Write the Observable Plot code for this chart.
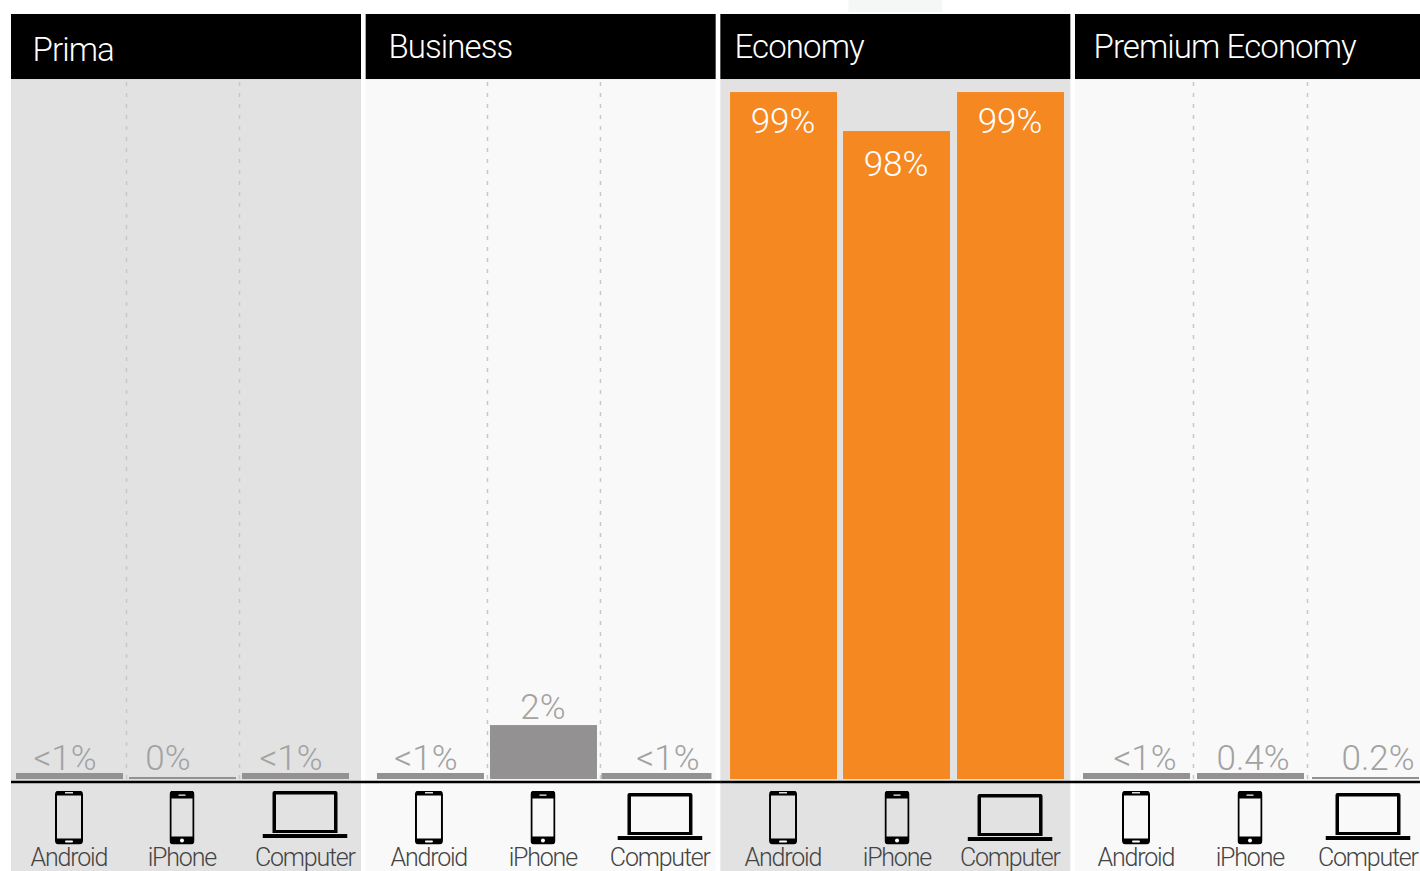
<!DOCTYPE html>
<html><head><meta charset="utf-8">
<script src="https://cdn.jsdelivr.net/npm/d3@7"></script>
<script src="https://cdn.jsdelivr.net/npm/@observablehq/plot@0.6"></script>
<style>html,body{margin:0;padding:0;background:#fff;overflow:hidden}svg{display:block}
g[font-size="33"]{letter-spacing:-0.9px}
g[font-size="25"]{letter-spacing:-1.2px}
</style>
</head><body><div id="chart"></div>
<script>
const cabins = ["Prima", "Business", "Economy", "Premium Economy"];
const devices = ["Android", "iPhone", "Computer"];
const shareLabels = [
  ["<1%", "0%", "<1%"],
  ["<1%", "2%", "<1%"],
  ["99%", "98%", "99%"],
  ["<1%", "0.4%", "0.2%"]
];
// bar lengths as drawn, on a 0–100 panel scale
const drawnLengths = [
  [0.86, 0.29, 0.86],
  [0.86, 7.71, 0.86],
  [98.14, 92.57, 98.14],
  [0.86, 0.86, 0.29]
];

// ----- layout & style (offsets in px) -----
const FONT = "Roboto, 'Liberation Sans', sans-serif";
const panelFill = ["#e2e2e2", "#f9f9f9", "#e2e2e2", "#f9f9f9"];
const barNudge = [[5,5,5],[11.3,11.3,11.8],[9.7,9.7,10.7],[8,9,11]];
const labelNudge = [[0,-10,0],[6.3,10.3,22.3],[8.7,8.7,9.7],[16,11,23]];
const deviceNudge = [[4.5,4.5,14.5],[9.8,10.8,14.8],[9.2,10.2,10.2],[7.5,8.5,13.5]];
const titleDx = [21, 22.3, 13.7, 18];
const titleDy = [3, 0, 0, 0];
const iconDy = [[0,0,-3],[0,0,-1],[0,0,0],[0,0,-1]];
const Y = {floor: -13.14, top: 100, head: 109.29, pale0: 109.6, pale1: 111.29, axis: -0.36, icon: -5.43, device: -11.2};

const svgUri = s => "data:image/svg+xml;utf8," + encodeURIComponent(s);
const androidIcon = svgUri(`<svg xmlns="http://www.w3.org/2000/svg" viewBox="0 0 28 54"><path fill-rule="evenodd" d="M4 0H24Q28 0 28 4V50Q28 54 24 54H4Q0 54 0 50V4Q0 0 4 0ZM2 5V48H26V5Z"/><rect x="10" y="1.6" width="8" height="1.3" fill="#fff"/><rect x="10" y="50" width="8" height="2" rx="1" fill="#fff"/></svg>`);
const iphoneIcon = svgUri(`<svg xmlns="http://www.w3.org/2000/svg" viewBox="0 0 25 54"><path fill-rule="evenodd" d="M4 0H21Q25 0 25 4V50Q25 54 21 54H4Q0 54 0 50V4Q0 0 4 0ZM2 8V46H23V8Z"/><rect x="9" y="4" width="7" height="1.2" fill="#fff"/><circle cx="12.5" cy="50" r="2" fill="#fff"/></svg>`);
const laptopIcon = svgUri(`<svg xmlns="http://www.w3.org/2000/svg" viewBox="0 0 85 47"><path fill-rule="evenodd" d="M12 0H73Q75 0 75 2V42H10V2Q10 0 12 0ZM13.5 3.5V39H71.5V3.5Z"/><rect x="0" y="43" width="85" height="4"/></svg>`);
const icons = {Android: {src: androidIcon, w: 28, h: 54}, iPhone: {src: iphoneIcon, w: 25, h: 54}, Computer: {src: laptopIcon, w: 85, h: 47}};

const marks = [];
cabins.forEach((cabin, p) => {
  const one = [{cabin}];
  marks.push(
    Plot.rect(one, {fx: "cabin", y1: Y.floor, y2: Y.top, fill: panelFill[p]}),
    Plot.rect(one, {fx: "cabin", y1: Y.top, y2: Y.head, fill: "#000"}),
    Plot.text(one, {fx: "cabin", text: "cabin", y: (Y.top + Y.head) / 2, frameAnchor: "left", textAnchor: "start", dx: titleDx[p], dy: titleDy[p], fill: "#fff", fontSize: 33, fontWeight: 300, fontFamily: FONT})
  );
  if (cabin === "Economy") {
    marks.push(Plot.barY(one, {fx: "cabin", x: () => "iPhone", y1: Y.pale0, y2: Y.pale1, fill: "#f5f7f7", dx: 10, insetLeft: 5, insetRight: 8}));
  } else {
    [0, 1].forEach(i => {
      marks.push(Plot.ruleX(one, {fx: "cabin", x: () => devices[i], y1: 0, y2: Y.top, dx: barNudge[p][i] + 56.5, stroke: "#c8c8c8", strokeWidth: 1.5, strokeDasharray: "4,7"}));
    });
  }
  devices.forEach((device, i) => {
    const row = [{cabin, device, length: drawnLengths[p][i], label: shareLabels[p][i]}];
    const big = drawnLengths[p][i] > 50;
    const thin = drawnLengths[p][i] < 0.5;
    const tall = drawnLengths[p][i] > 5;
    const wide = p === 1 && i === 2;
    const icon = icons[device];
    marks.push(
      Plot.barY(row, {fx: "cabin", x: "device", y: "length", dx: barNudge[p][i], insetLeft: wide ? -2 : 0, insetRight: wide ? -1 : 0, fill: big ? "#f68822" : "#939191"}),
      Plot.text(row, {fx: "cabin", x: "device", y: "length", text: "label", dx: labelNudge[p][i], dy: big ? (i === 1 ? 33 : 29) : thin ? -19 : tall ? -18 : -15, fill: big ? "#fff" : "#a2a2a2", fontSize: 35, fontWeight: 300, fontFamily: FONT}),
      Plot.image(row, {fx: "cabin", x: "device", y: () => Y.icon, src: () => icon.src, width: icon.w, height: icon.h, dx: deviceNudge[p][i] - 0.5, dy: iconDy[p][i]}),
      Plot.text(row, {fx: "cabin", x: "device", y: () => Y.device, text: "device", dx: deviceNudge[p][i] - 0.7, fill: "#444", fontSize: 25, fontWeight: 300, fontFamily: FONT})
    );
  });
});
marks.push(Plot.ruleY([Y.axis], {stroke: "#000", strokeWidth: 2.5, insetRight: -5}));

const chart = Plot.plot({
  width: 1420, height: 871,
  marginTop: 0, marginBottom: 0, marginLeft: 0, marginRight: 0,
  fx: {domain: cabins, range: [11, 1425], paddingInner: 4.67 / 354.67, paddingOuter: 0, round: false, axis: null},
  x: {domain: devices, range: [0, 333], paddingInner: 6 / 113, paddingOuter: 0, round: false, axis: null},
  y: {domain: [-13.14, 111.29], range: [871, 0], axis: null},
  style: {background: "#fff", overflow: "hidden"},
  marks
});
document.getElementById("chart").append(chart);
</script></body></html>
